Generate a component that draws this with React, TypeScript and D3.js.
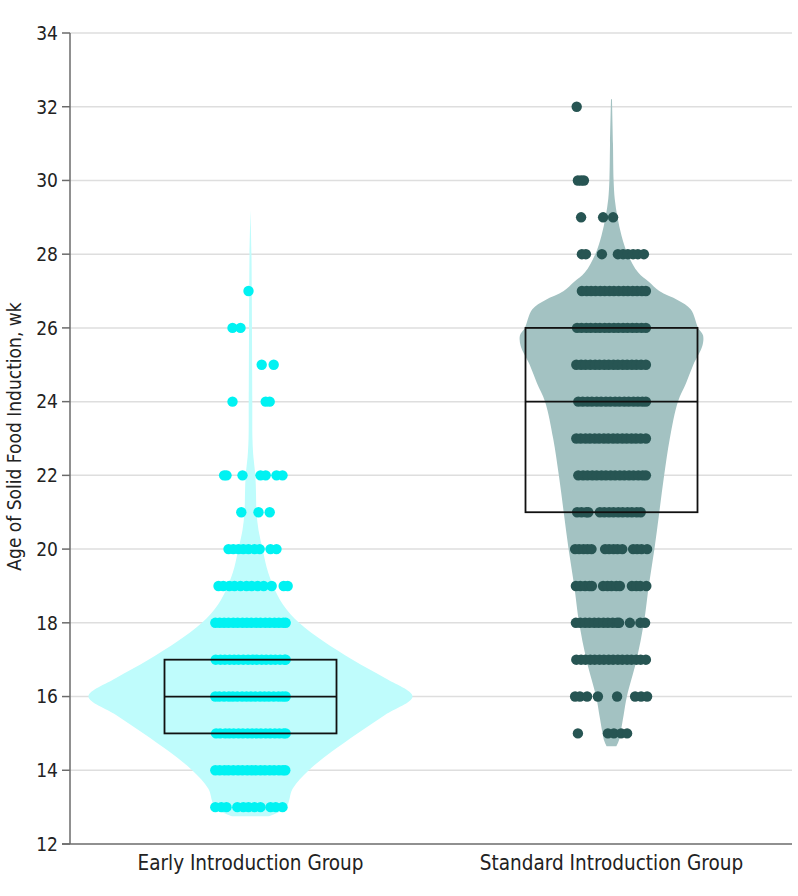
import * as d3 from 'd3';

// groups and axis
const groups = ['Early Introduction Group', 'Standard Introduction Group'];
const yTicks = [12, 14, 16, 18, 20, 22, 24, 26, 28, 30, 32, 34];
const yTitle = 'Age of Solid Food Induction, wk';

// box stats [q1, median, q3]
const earlyBox = [15, 16, 17];
const standardBox = [21, 24, 26];

// violin outlines: week value and relative density (half width)
const earlyViolinWeeks = [12.75, 13, 13.5, 14, 14.5, 15, 15.5, 16, 16.5, 17, 17.5, 18, 18.5, 19, 19.5, 20, 20.5, 21, 21.5, 22, 22.5, 23, 24, 25, 26, 27, 28, 29.2];
const earlyViolinDensity = [0.11, 0.22, 0.26, 0.36, 0.5, 0.66, 0.83, 1.0, 0.83, 0.63, 0.45, 0.3, 0.2, 0.14, 0.1, 0.075, 0.05, 0.037, 0.034, 0.03, 0.018, 0.012, 0.011, 0.01, 0.009, 0.008, 0.006, 0];
const standardViolinWeeks = [14.65, 14.8, 15, 15.5, 16, 17, 18, 19, 20, 21, 22, 23, 24, 24.5, 25, 25.5, 25.8, 26, 26.5, 26.75, 27, 27.25, 27.5, 28, 28.5, 29, 29.5, 30, 31, 32.2];
const standardViolinDensity = [0.03, 0.045, 0.055, 0.075, 0.095, 0.155, 0.2, 0.23, 0.265, 0.295, 0.325, 0.36, 0.41, 0.46, 0.505, 0.56, 0.565, 0.535, 0.49, 0.41, 0.295, 0.23, 0.165, 0.1, 0.062, 0.037, 0.02, 0.013, 0.009, 0.003];

// dots: week and horizontal jitter (-1..1) per row
const earlyDotWeeks = [27, 26, 25, 24, 22, 21, 20, 19, 18, 17, 16, 15, 14, 13];
const earlyDotJitter = [
  [-0.05],
  [-0.45, -0.25],
  [0.28, 0.58],
  [-0.45, 0.38, 0.48],
  [-0.66, -0.6, -0.2, 0.25, 0.38, 0.65, 0.8],
  [-0.23, 0.2, 0.48],
  [-0.55, -0.43, -0.3, -0.18, -0.05, 0.1, 0.23, 0.5, 0.65],
  [-0.8, -0.68, -0.53, -0.4, -0.25, -0.1, 0.03, 0.18, 0.33, 0.53, 0.83, 0.93],
  [-0.88, -0.77, -0.66, -0.55, -0.43, -0.32, -0.2, -0.09, 0.02, 0.14, 0.25, 0.37, 0.48, 0.6, 0.71, 0.82, 0.88],
  [-0.87, -0.75, -0.64, -0.52, -0.41, -0.3, -0.18, -0.06, 0.05, 0.16, 0.28, 0.39, 0.51, 0.62, 0.74, 0.85, 0.88],
  [-0.88, -0.78, -0.66, -0.54, -0.44, -0.33, -0.21, -0.1, 0.01, 0.12, 0.24, 0.35, 0.46, 0.58, 0.7, 0.8, 0.88],
  [-0.86, -0.76, -0.63, -0.53, -0.42, -0.3, -0.19, -0.07, 0.04, 0.15, 0.26, 0.38, 0.49, 0.61, 0.72, 0.83, 0.88],
  [-0.88, -0.77, -0.65, -0.55, -0.43, -0.31, -0.2, -0.08, 0.03, 0.13, 0.25, 0.36, 0.48, 0.59, 0.71, 0.81, 0.87],
  [-0.88, -0.73, -0.6, -0.33, -0.18, -0.05, 0.1, 0.25, 0.5, 0.63, 0.8],
];

const standardDotWeeks = [32, 30, 29, 28, 27, 26, 25, 24, 23, 22, 21, 20, 19, 18, 17, 16, 15];
const standardDotJitter = [
  [-0.87],
  [-0.84, -0.76, -0.69],
  [-0.76, -0.21, 0.04],
  [-0.74, -0.64, -0.24, 0.16, 0.29, 0.41, 0.54, 0.66, 0.81],
  [-0.74, -0.62, -0.51, -0.4, -0.28, -0.17, -0.05, 0.06, 0.18, 0.3, 0.41, 0.53, 0.64, 0.76, 0.86],
  [-0.86, -0.75, -0.63, -0.52, -0.4, -0.29, -0.17, -0.06, 0.06, 0.17, 0.29, 0.4, 0.52, 0.63, 0.75, 0.86],
  [-0.88, -0.76, -0.65, -0.53, -0.41, -0.3, -0.18, -0.07, 0.05, 0.16, 0.28, 0.39, 0.51, 0.62, 0.74, 0.86],
  [-0.83, -0.72, -0.6, -0.49, -0.37, -0.26, -0.14, -0.03, 0.09, 0.2, 0.32, 0.43, 0.55, 0.66, 0.77, 0.86],
  [-0.88, -0.77, -0.65, -0.54, -0.42, -0.31, -0.19, -0.08, 0.04, 0.15, 0.27, 0.38, 0.5, 0.61, 0.73, 0.86],
  [-0.83, -0.71, -0.6, -0.48, -0.37, -0.25, -0.14, -0.02, 0.09, 0.21, 0.32, 0.44, 0.55, 0.67, 0.78, 0.86],
  [-0.86, -0.75, -0.63, -0.58, -0.29, -0.18, -0.06, 0.05, 0.17, 0.28, 0.4, 0.51, 0.63, 0.73],
  [-0.91, -0.81, -0.7, -0.6, -0.5, -0.16, -0.06, 0.05, 0.15, 0.27, 0.54, 0.64, 0.75, 0.89],
  [-0.89, -0.78, -0.66, -0.55, -0.49, -0.21, -0.1, 0.0, 0.12, 0.21, 0.51, 0.62, 0.72, 0.87],
  [-0.89, -0.78, -0.66, -0.55, -0.43, -0.32, -0.2, -0.09, 0.03, 0.14, 0.19, 0.46, 0.72, 0.84],
  [-0.88, -0.76, -0.65, -0.53, -0.42, -0.3, -0.19, -0.07, 0.04, 0.16, 0.27, 0.39, 0.5, 0.62, 0.73, 0.86],
  [-0.91, -0.79, -0.61, -0.34, 0.14, 0.59, 0.74, 0.89],
  [-0.84, -0.09, 0.06, 0.24, 0.39],
];

const W = 798;
const H = 896;
const margin = { top: 33, right: 6, bottom: 52, left: 70 };
const font = '"Liberation Sans Narrow", "DejaVu Sans Condensed", sans-serif';

const x = d3.scaleBand().domain(groups).range([margin.left, W - margin.right]);
const y = d3.scaleLinear().domain([12, 34]).range([H - margin.bottom, margin.top]);
const violinW = d3.scaleLinear().domain([0, 1]).range([0, 162]);
const jitter = d3.scaleLinear().domain([-1, 1]).range([-40, 40]);

function violinPath(cx: number, weeks: number[], dens: number[]) {
  const pts = weeks.map((w, i) => ({ w, d: dens[i] }));
  const area = d3
    .area<{ w: number; d: number }>()
    .y((p) => y(p.w))
    .x0((p) => cx - violinW(p.d))
    .x1((p) => cx + violinW(p.d))
    .curve(d3.curveCatmullRom.alpha(0.5));
  return area(pts) || '';
}

function Group({
  name, weeks, dens, dotWeeks, dotJitter, box, fill, dot,
}: {
  name: string; weeks: number[]; dens: number[]; dotWeeks: number[]; dotJitter: number[][];
  box: number[]; fill: string; dot: string;
}) {
  const cx = (x(name) as number) + x.bandwidth() / 2;
  const boxHalf = 86;
  return (
    <g>
      <path d={violinPath(cx, weeks, dens)} fill={fill} />
      {dotWeeks.map((w, i) =>
        dotJitter[i].map((j, k) => (
          <circle key={`${i}-${k}`} cx={cx + jitter(j)} cy={y(w)} r={5.2} fill={dot} />
        ))
      )}
      <rect
        x={cx - boxHalf}
        y={y(box[2])}
        width={boxHalf * 2}
        height={y(box[0]) - y(box[2])}
        fill="none"
        stroke="#111"
        strokeWidth={1.8}
      />
      <line x1={cx - boxHalf} x2={cx + boxHalf} y1={y(box[1])} y2={y(box[1])} stroke="#111" strokeWidth={1.8} />
    </g>
  );
}

export default function App() {
  const x0 = margin.left;
  const x1 = W - margin.right;
  return (
    <svg width={W} height={H} style={{ position: 'absolute', left: 0, top: 0, background: '#fff' }} fontFamily={font}>
      {/* grid */}
      {yTicks.slice(1).map((t) => (
        <line key={t} x1={x0} x2={x1} y1={y(t)} y2={y(t)} stroke="#dedede" strokeWidth={1.5} />
      ))}
      <Group
        name={groups[0]}
        weeks={earlyViolinWeeks}
        dens={earlyViolinDensity}
        dotWeeks={earlyDotWeeks}
        dotJitter={earlyDotJitter}
        box={earlyBox}
        fill="#bffcfc"
        dot="#00f2f2"
      />
      <Group
        name={groups[1]}
        weeks={standardViolinWeeks}
        dens={standardViolinDensity}
        dotWeeks={standardDotWeeks}
        dotJitter={standardDotJitter}
        box={standardBox}
        fill="#a3c2c2"
        dot="#275553"
      />
      {/* y axis */}
      <line x1={x0} x2={x0} y1={y(34)} y2={y(12)} stroke="#6b6b6b" strokeWidth={1.5} />
      <line x1={x0 - 8} x2={x1} y1={y(12)} y2={y(12)} stroke="#6b6b6b" strokeWidth={1.5} />
      {yTicks.map((t) => (
        <g key={t}>
          <line x1={x0 - 8} x2={x0} y1={y(t)} y2={y(t)} stroke="#6b6b6b" strokeWidth={1.5} />
          <text x={x0 - 12} y={y(t)} dy="0.36em" textAnchor="end" fontSize={19} fill="#222">
            {t}
          </text>
        </g>
      ))}
      <text
        transform={`translate(21, ${(y(12) + y(34)) / 2 - 2}) rotate(-90)`}
        textAnchor="middle"
        fontSize={19}
        fill="#222"
      >
        {yTitle}
      </text>
      {groups.map((g) => (
        <text
          key={g}
          x={(x(g) as number) + x.bandwidth() / 2}
          y={y(12) + 26}
          textAnchor="middle"
          fontSize={20.5}
          fill="#222"
        >
          {g}
        </text>
      ))}
    </svg>
  );
}
